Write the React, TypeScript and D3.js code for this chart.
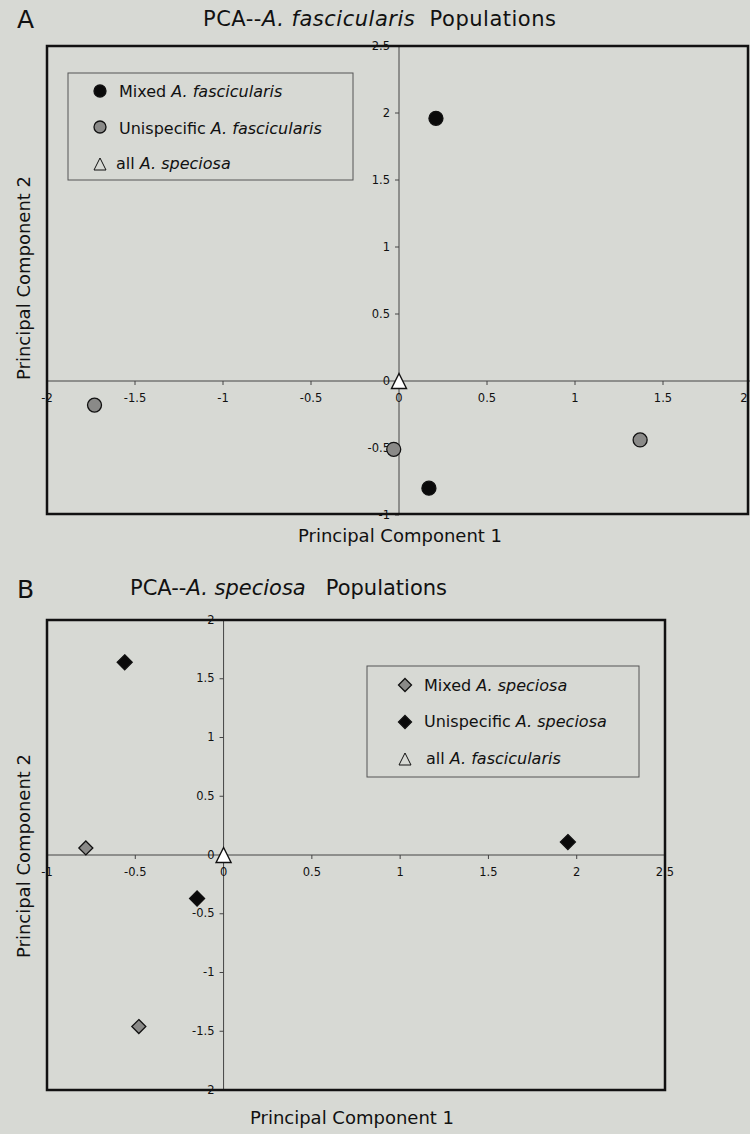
import React from "react";
import * as d3 from "d3";

// ---- Panel A data ----
const aMixed = [
  { x: 0.21, y: 1.96 },
  { x: 0.17, y: -0.8 },
];
const aUnispecific = [
  { x: -1.73, y: -0.18 },
  { x: -0.03, y: -0.51 },
  { x: 1.37, y: -0.44 },
];
const aSpeciosa = [{ x: 0, y: 0 }];
const aXTicks = [-2, -1.5, -1, -0.5, 0, 0.5, 1, 1.5, 2];
const aYTicks = [-1, -0.5, 0, 0.5, 1, 1.5, 2, 2.5];

// ---- Panel B data ----
const bMixed = [
  { x: -0.78, y: 0.06 },
  { x: -0.48, y: -1.46 },
];
const bUnispecific = [
  { x: -0.56, y: 1.64 },
  { x: -0.15, y: -0.37 },
  { x: 1.95, y: 0.11 },
];
const bFascicularis = [{ x: 0, y: 0 }];
const bXTicks = [-1, -0.5, 0, 0.5, 1, 1.5, 2, 2.5];
const bYTicks = [-2, -1.5, -1, -0.5, 0, 0.5, 1, 1.5, 2];

const FONT = "DejaVu Sans, Verdana, sans-serif";
const BG = "#d7d9d4";
const TICK_FS = 11.5;
const LEGEND_FS = 16;
const LABEL_FS = 18;
const TITLE_FS = 21;

const fmt = (v: number) => String(v);

function Circle({ cx, cy, fill, r = 7 }: { cx: number; cy: number; fill: string; r?: number }) {
  return <circle cx={cx} cy={cy} r={r} fill={fill} stroke="#111" strokeWidth={1.3} />;
}
function Diamond({ cx, cy, fill, s = 7.5 }: { cx: number; cy: number; fill: string; s?: number }) {
  return (
    <path
      d={`M${cx},${cy - s}L${cx + s},${cy}L${cx},${cy + s}L${cx - s},${cy}Z`}
      fill={fill}
      stroke="#111"
      strokeWidth={1.3}
    />
  );
}
function Triangle({ cx, cy, s = 7.5, fill = "#fff", sw = 1.4 }: { cx: number; cy: number; s?: number; fill?: string; sw?: number }) {
  return (
    <path
      d={`M${cx},${cy - s}L${cx + s},${cy + s}L${cx - s},${cy + s}Z`}
      fill={fill}
      stroke="#111"
      strokeWidth={sw}
    />
  );
}

function Axes({
  x,
  y,
  xTicks,
  yTicks,
}: {
  x: d3.ScaleLinear<number, number>;
  y: d3.ScaleLinear<number, number>;
  xTicks: number[];
  yTicks: number[];
}) {
  const x0 = x(0);
  const y0 = y(0);
  const [xl, xr] = x.range();
  const [yb, yt] = y.range();
  return (
    <g>
      <line x1={xl} x2={xr} y1={y0} y2={y0} stroke="#444" strokeWidth={1} />
      <line x1={x0} x2={x0} y1={yt} y2={yb} stroke="#444" strokeWidth={1} />
      {xTicks.map((t) => (
        <g key={"x" + t}>
          <line x1={x(t)} x2={x(t)} y1={y0} y2={y0 + 4} stroke="#444" strokeWidth={1} />
          <text
            x={Math.min(x(t), 744)}
            y={y0 + 21}
            textAnchor="middle"
            fontSize={TICK_FS}
            fontFamily={FONT}
            fill="#111"
          >
            {fmt(t)}
          </text>
        </g>
      ))}
      {yTicks.map((t) => (
        <g key={"y" + t}>
          <line x1={x0 - 4} x2={x0} y1={y(t)} y2={y(t)} stroke="#444" strokeWidth={1} />
          <text
            x={x0 - 9}
            y={y(t) + 3.5}
            textAnchor="end"
            fontSize={TICK_FS}
            fontFamily={FONT}
            fill="#111"
          >
            {fmt(t)}
          </text>
        </g>
      ))}
    </g>
  );
}

function LegendItem({
  x,
  y,
  marker,
  plain,
  italic,
}: {
  x: number;
  y: number;
  marker: React.ReactNode;
  plain: string;
  italic: string;
}) {
  return (
    <g>
      {marker}
      <text x={x} y={y + 5.5} fontSize={LEGEND_FS} fontFamily={FONT} fill="#111">
        {plain}
        <tspan fontStyle="italic">{italic}</tspan>
      </text>
    </g>
  );
}

export default function App() {
  // Panel A scales
  const ax = d3.scaleLinear().domain([-2, 2]).range([47, 751]);
  const ay = d3.scaleLinear().domain([-1, 2.5]).range([515, 46]);
  // Panel B scales
  const bx = d3.scaleLinear().domain([-1, 2.5]).range([47, 665]);
  const by = d3.scaleLinear().domain([-2, 2]).range([1090, 620]);

  return (
    <svg
      width={750}
      height={1134}
      style={{ position: "absolute", left: 0, top: 0, background: BG }}
    >
      <rect x={0} y={0} width={750} height={1134} fill={BG} />

      {/* ===== Panel A ===== */}
      <text x={17} y={28} fontSize={25} fontFamily={FONT} fill="#111">
        A
      </text>
      <text x={203} y={26} textLength={353} lengthAdjust="spacing" fontSize={TITLE_FS} fontFamily={FONT} fill="#111">
        PCA--<tspan fontStyle="italic">A. fascicularis</tspan>
        {"\u00a0\u00a0Populations"}
      </text>
      <Axes x={ax} y={ay} xTicks={aXTicks} yTicks={aYTicks} />
      <rect x={47} y={46} width={701} height={468} fill="none" stroke="#111" strokeWidth={2.5} />
      {aMixed.map((d, i) => (
        <Circle key={"am" + i} cx={ax(d.x)} cy={ay(d.y)} fill="#0a0a0a" />
      ))}
      {aUnispecific.map((d, i) => (
        <Circle key={"au" + i} cx={ax(d.x)} cy={ay(d.y)} fill="#8a8a88" />
      ))}
      {aSpeciosa.map((d, i) => (
        <Triangle key={"as" + i} cx={ax(d.x)} cy={ay(d.y)} />
      ))}
      <rect x={68} y={73} width={285} height={107} fill={BG} stroke="#555" strokeWidth={1} />
      <LegendItem
        x={119}
        y={91}
        marker={<Circle cx={100} cy={91} r={6} fill="#0a0a0a" />}
        plain="Mixed "
        italic="A. fascicularis"
      />
      <LegendItem
        x={119}
        y={128}
        marker={<Circle cx={100} cy={127} r={6} fill="#8a8a88" />}
        plain="Unispecific "
        italic="A. fascicularis"
      />
      <LegendItem
        x={116}
        y={163}
        marker={<Triangle cx={100} cy={164} s={6} fill="none" sw={1} />}
        plain="all "
        italic="A. speciosa"
      />
      <text x={400} y={542} textAnchor="middle" fontSize={LABEL_FS} fontFamily={FONT} fill="#111">
        Principal Component 1
      </text>
      <text
        transform="translate(30,278) rotate(-90)"
        textAnchor="middle"
        fontSize={LABEL_FS}
        fontFamily={FONT}
        fill="#111"
      >
        Principal Component 2
      </text>

      {/* ===== Panel B ===== */}
      <text x={17} y={598} fontSize={25} fontFamily={FONT} fill="#111">
        B
      </text>
      <text x={130} y={595} fontSize={TITLE_FS} fontFamily={FONT} fill="#111">
        PCA--<tspan fontStyle="italic">A. speciosa</tspan>
        {"\u00a0\u00a0\u00a0Populations"}
      </text>
      <Axes x={bx} y={by} xTicks={bXTicks} yTicks={bYTicks} />
      <rect x={47} y={620} width={618} height={470} fill="none" stroke="#111" strokeWidth={2.5} />
      {bMixed.map((d, i) => (
        <Diamond key={"bm" + i} cx={bx(d.x)} cy={by(d.y)} fill="#8a8a88" s={7} />
      ))}
      {bUnispecific.map((d, i) => (
        <Diamond key={"bu" + i} cx={bx(d.x)} cy={by(d.y)} fill="#0a0a0a" />
      ))}
      {bFascicularis.map((d, i) => (
        <Triangle key={"bf" + i} cx={bx(d.x)} cy={by(d.y)} />
      ))}
      <rect x={367} y={666} width={272} height={111} fill={BG} stroke="#555" strokeWidth={1} />
      <LegendItem
        x={424}
        y={685}
        marker={<Diamond cx={405} cy={685} fill="#8a8a88" s={6.5} />}
        plain="Mixed "
        italic="A. speciosa"
      />
      <LegendItem
        x={424}
        y={721}
        marker={<Diamond cx={405} cy={722} fill="#0a0a0a" s={6.5} />}
        plain="Unispecific "
        italic="A. speciosa"
      />
      <LegendItem
        x={426}
        y={758}
        marker={<Triangle cx={405} cy={759} s={6} fill="none" sw={1} />}
        plain="all "
        italic="A. fascicularis"
      />
      <text x={352} y={1124} textAnchor="middle" fontSize={LABEL_FS} fontFamily={FONT} fill="#111">
        Principal Component 1
      </text>
      <text
        transform="translate(30,856) rotate(-90)"
        textAnchor="middle"
        fontSize={LABEL_FS}
        fontFamily={FONT}
        fill="#111"
      >
        Principal Component 2
      </text>
    </svg>
  );
}
